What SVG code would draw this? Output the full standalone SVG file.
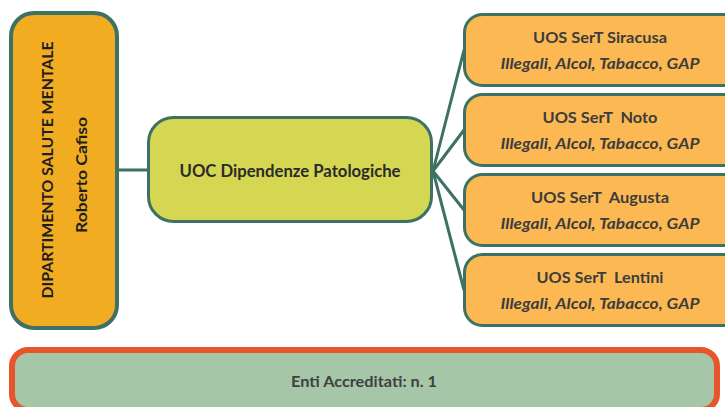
<svg xmlns="http://www.w3.org/2000/svg" width="725" height="407" viewBox="0 0 725 407">
  <style>
    .dept { fill: #f2ac22; stroke: #3d7163; stroke-width: 4; }
    .uoc { fill: #d5d651; stroke: #3d7163; stroke-width: 3; }
    .uos { fill: #fcb953; stroke: #3d7163; stroke-width: 3; }
    .enti { fill: #a6c6a8; stroke: #e8552b; stroke-width: 6; }
    .link { fill: none; stroke: #3d7163; stroke-width: 3; stroke-linecap: round; }
    text { font-family: Lato, "Open Sans", "Liberation Sans", sans-serif; text-anchor: middle; font-weight: 700; }
    .t-dept { font-size: 15px; fill: #1e1e1e; }
    .t-uoc { font-size: 16.5px; fill: #2a2a2a; }
    .t-title { font-size: 16px; fill: #3c3c3c; }
    .t-sub { font-size: 16px; font-style: italic; fill: #3c3c3c; }
    .t-enti { font-size: 15.5px; fill: #404040; }
  </style>

  <!-- connectors -->
  <g id="connectors">
    <line class="link" x1="119" y1="170" x2="148" y2="170"/>
    <line class="link" x1="433" y1="171" x2="464" y2="50"/>
    <line class="link" x1="433" y1="171" x2="464" y2="130"/>
    <line class="link" x1="433" y1="171" x2="464" y2="210"/>
    <line class="link" x1="433" y1="171" x2="464" y2="290"/>
  </g>

  <!-- department -->
  <g id="dipartimento">
    <rect class="dept" x="11" y="13" width="106" height="315" rx="23" ry="23"/>
    <text class="t-dept" transform="translate(53 170) rotate(-90)" textLength="257" lengthAdjust="spacingAndGlyphs">DIPARTIMENTO SALUTE MENTALE</text>
    <text class="t-dept" transform="translate(87 175) rotate(-90)" textLength="116" lengthAdjust="spacingAndGlyphs">Roberto Cafiso</text>
  </g>

  <!-- complex operating unit -->
  <g id="uoc">
    <rect class="uoc" x="148.5" y="117.5" width="283" height="104" rx="25" ry="25"/>
    <text class="t-uoc" x="290" y="177" textLength="221" lengthAdjust="spacingAndGlyphs">UOC Dipendenze Patologiche</text>
  </g>

  <!-- simple operating units -->
  <g id="uos-siracusa">
    <rect class="uos" x="464.5" y="14.5" width="280" height="71" rx="18" ry="18"/>
    <text class="t-title" x="600" y="43" textLength="134" lengthAdjust="spacingAndGlyphs">UOS SerT Siracusa</text>
    <text class="t-sub" x="600" y="69" textLength="199" lengthAdjust="spacingAndGlyphs">Illegali, Alcol, Tabacco, GAP</text>
  </g>
  <g id="uos-noto">
    <rect class="uos" x="464.5" y="94.5" width="280" height="71" rx="18" ry="18"/>
    <text class="t-title" x="600" y="123" xml:space="preserve" textLength="115" lengthAdjust="spacingAndGlyphs">UOS SerT  Noto</text>
    <text class="t-sub" x="600" y="149" textLength="199" lengthAdjust="spacingAndGlyphs">Illegali, Alcol, Tabacco, GAP</text>
  </g>
  <g id="uos-augusta">
    <rect class="uos" x="464.5" y="174.5" width="280" height="71" rx="18" ry="18"/>
    <text class="t-title" x="600" y="203" xml:space="preserve" textLength="138" lengthAdjust="spacingAndGlyphs">UOS SerT  Augusta</text>
    <text class="t-sub" x="600" y="229" textLength="199" lengthAdjust="spacingAndGlyphs">Illegali, Alcol, Tabacco, GAP</text>
  </g>
  <g id="uos-lentini">
    <rect class="uos" x="464.5" y="254.5" width="280" height="71" rx="18" ry="18"/>
    <text class="t-title" x="600" y="283" xml:space="preserve" textLength="127" lengthAdjust="spacingAndGlyphs">UOS SerT  Lentini</text>
    <text class="t-sub" x="600" y="309" textLength="199" lengthAdjust="spacingAndGlyphs">Illegali, Alcol, Tabacco, GAP</text>
  </g>

  <!-- accredited bodies -->
  <g id="enti-accreditati">
    <rect class="enti" x="12" y="350" width="705" height="60" rx="16" ry="16"/>
    <text class="t-enti" x="364" y="387" textLength="146" lengthAdjust="spacingAndGlyphs">Enti Accreditati: n. 1</text>
  </g>
</svg>
